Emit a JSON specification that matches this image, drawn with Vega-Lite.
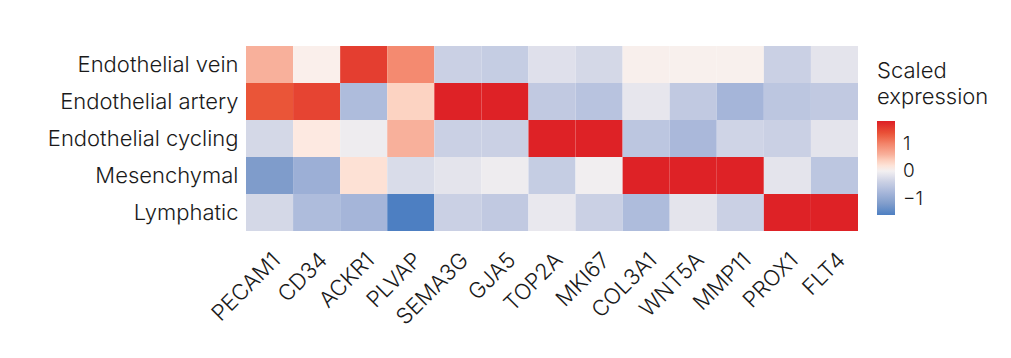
{
  "$schema": "https://vega.github.io/schema/vega-lite/v6.json",
  "autosize": {"type": "none"},
  "padding": {"left": 246, "top": 46, "right": 153, "bottom": 127},
  "width": 612,
  "height": 185,
  "background": "white",
  "config": {"view": {"stroke": null}, "font": "Inter"},
  "datasets": {
    "cells": [
      {"cell": "Endothelial vein", "gene": "PECAM1", "z": 0.6},
      {"cell": "Endothelial artery", "gene": "PECAM1", "z": 1.35},
      {"cell": "Endothelial cycling", "gene": "PECAM1", "z": -0.3},
      {"cell": "Mesenchymal", "gene": "PECAM1", "z": -1.2},
      {"cell": "Lymphatic", "gene": "PECAM1", "z": -0.3},
      {"cell": "Endothelial vein", "gene": "CD34", "z": 0.08},
      {"cell": "Endothelial artery", "gene": "CD34", "z": 1.5},
      {"cell": "Endothelial cycling", "gene": "CD34", "z": 0.15},
      {"cell": "Mesenchymal", "gene": "CD34", "z": -0.9},
      {"cell": "Lymphatic", "gene": "CD34", "z": -0.7},
      {"cell": "Endothelial vein", "gene": "ACKR1", "z": 1.55},
      {"cell": "Endothelial artery", "gene": "ACKR1", "z": -0.7},
      {"cell": "Endothelial cycling", "gene": "ACKR1", "z": -0.05},
      {"cell": "Mesenchymal", "gene": "ACKR1", "z": 0.22},
      {"cell": "Lymphatic", "gene": "ACKR1", "z": -0.8},
      {"cell": "Endothelial vein", "gene": "PLVAP", "z": 0.95},
      {"cell": "Endothelial artery", "gene": "PLVAP", "z": 0.35},
      {"cell": "Endothelial cycling", "gene": "PLVAP", "z": 0.6},
      {"cell": "Mesenchymal", "gene": "PLVAP", "z": -0.25},
      {"cell": "Lymphatic", "gene": "PLVAP", "z": -1.6},
      {"cell": "Endothelial vein", "gene": "SEMA3G", "z": -0.4},
      {"cell": "Endothelial artery", "gene": "SEMA3G", "z": 1.79},
      {"cell": "Endothelial cycling", "gene": "SEMA3G", "z": -0.4},
      {"cell": "Mesenchymal", "gene": "SEMA3G", "z": -0.15},
      {"cell": "Lymphatic", "gene": "SEMA3G", "z": -0.4},
      {"cell": "Endothelial vein", "gene": "GJA5", "z": -0.45},
      {"cell": "Endothelial artery", "gene": "GJA5", "z": 1.79},
      {"cell": "Endothelial cycling", "gene": "GJA5", "z": -0.4},
      {"cell": "Mesenchymal", "gene": "GJA5", "z": -0.05},
      {"cell": "Lymphatic", "gene": "GJA5", "z": -0.5},
      {"cell": "Endothelial vein", "gene": "TOP2A", "z": -0.2},
      {"cell": "Endothelial artery", "gene": "TOP2A", "z": -0.5},
      {"cell": "Endothelial cycling", "gene": "TOP2A", "z": 1.79},
      {"cell": "Mesenchymal", "gene": "TOP2A", "z": -0.45},
      {"cell": "Lymphatic", "gene": "TOP2A", "z": -0.1},
      {"cell": "Endothelial vein", "gene": "MKI67", "z": -0.3},
      {"cell": "Endothelial artery", "gene": "MKI67", "z": -0.6},
      {"cell": "Endothelial cycling", "gene": "MKI67", "z": 1.79},
      {"cell": "Mesenchymal", "gene": "MKI67", "z": -0.02},
      {"cell": "Lymphatic", "gene": "MKI67", "z": -0.4},
      {"cell": "Endothelial vein", "gene": "COL3A1", "z": 0.06},
      {"cell": "Endothelial artery", "gene": "COL3A1", "z": -0.12},
      {"cell": "Endothelial cycling", "gene": "COL3A1", "z": -0.55},
      {"cell": "Mesenchymal", "gene": "COL3A1", "z": 1.79},
      {"cell": "Lymphatic", "gene": "COL3A1", "z": -0.7},
      {"cell": "Endothelial vein", "gene": "WNT5A", "z": 0.05},
      {"cell": "Endothelial artery", "gene": "WNT5A", "z": -0.5},
      {"cell": "Endothelial cycling", "gene": "WNT5A", "z": -0.75},
      {"cell": "Mesenchymal", "gene": "WNT5A", "z": 1.79},
      {"cell": "Lymphatic", "gene": "WNT5A", "z": -0.15},
      {"cell": "Endothelial vein", "gene": "MMP11", "z": 0.05},
      {"cell": "Endothelial artery", "gene": "MMP11", "z": -0.8},
      {"cell": "Endothelial cycling", "gene": "MMP11", "z": -0.35},
      {"cell": "Mesenchymal", "gene": "MMP11", "z": 1.79},
      {"cell": "Lymphatic", "gene": "MMP11", "z": -0.4},
      {"cell": "Endothelial vein", "gene": "PROX1", "z": -0.4},
      {"cell": "Endothelial artery", "gene": "PROX1", "z": -0.55},
      {"cell": "Endothelial cycling", "gene": "PROX1", "z": -0.4},
      {"cell": "Mesenchymal", "gene": "PROX1", "z": -0.15},
      {"cell": "Lymphatic", "gene": "PROX1", "z": 1.79},
      {"cell": "Endothelial vein", "gene": "FLT4", "z": -0.15},
      {"cell": "Endothelial artery", "gene": "FLT4", "z": -0.5},
      {"cell": "Endothelial cycling", "gene": "FLT4", "z": -0.15},
      {"cell": "Mesenchymal", "gene": "FLT4", "z": -0.55},
      {"cell": "Lymphatic", "gene": "FLT4", "z": 1.79}
    ]
  },
  "data": {"name": "cells"},
  "mark": {"type": "rect"},
  "encoding": {
    "x": {
      "field": "gene", "type": "nominal",
      "sort": ["PECAM1","CD34","ACKR1","PLVAP","SEMA3G","GJA5","TOP2A","MKI67","COL3A1","WNT5A","MMP11","PROX1","FLT4"],
      "scale": {"paddingInner": 0, "paddingOuter": 0},
      "axis": {"title": null, "domain": false, "ticks": false, "labelAngle": -45, "labelAlign": "right", "labelBaseline": "top", "labelPadding": 18, "labelFontSize": 22, "labelFontWeight": 300, "labelColor": "#1a1a1a", "labelFont": "Inter", "labelLimit": 300}
    },
    "y": {
      "field": "cell", "type": "nominal",
      "sort": ["Endothelial vein","Endothelial artery","Endothelial cycling","Mesenchymal","Lymphatic"],
      "scale": {"paddingInner": 0, "paddingOuter": 0},
      "axis": {"title": null, "domain": false, "ticks": false, "labelPadding": 8, "labelFontSize": 22, "labelFontWeight": 300, "labelColor": "#1a1a1a", "labelFont": "Inter", "labelLimit": 300}
    },
    "color": {
      "field": "z", "type": "quantitative",
      "scale": {
        "domain": [-1.6, -1.2, -0.8, -0.4, 0, 0.1, 0.2, 0.4, 0.6, 0.95, 1.35, 1.82],
        "range": ["#4d7fc2", "#7f9ccb", "#a5b5d9", "#cad0e4", "#f3f0f1", "#fcefe9", "#fde3d8", "#fccdbb", "#f8b09b", "#f48a70", "#ea5538", "#dd1f25"],
        "interpolate": "rgb"
      },
      "legend": {
        "title": ["Scaled", "expression"],
        "titleFontSize": 22, "titleFontWeight": 300, "titleColor": "#1a1a1a", "titleLineHeight": 26, "titlePadding": 12,
        "values": [-1, 0, 1],
        "labelFontSize": 19, "labelFontWeight": 300, "labelColor": "#1a1a1a", "labelOffset": 8,
        "gradientLength": 94, "gradientThickness": 18,
        "orient": "none", "legendX": 631, "legendY": 15
      }
    }
  }
}
